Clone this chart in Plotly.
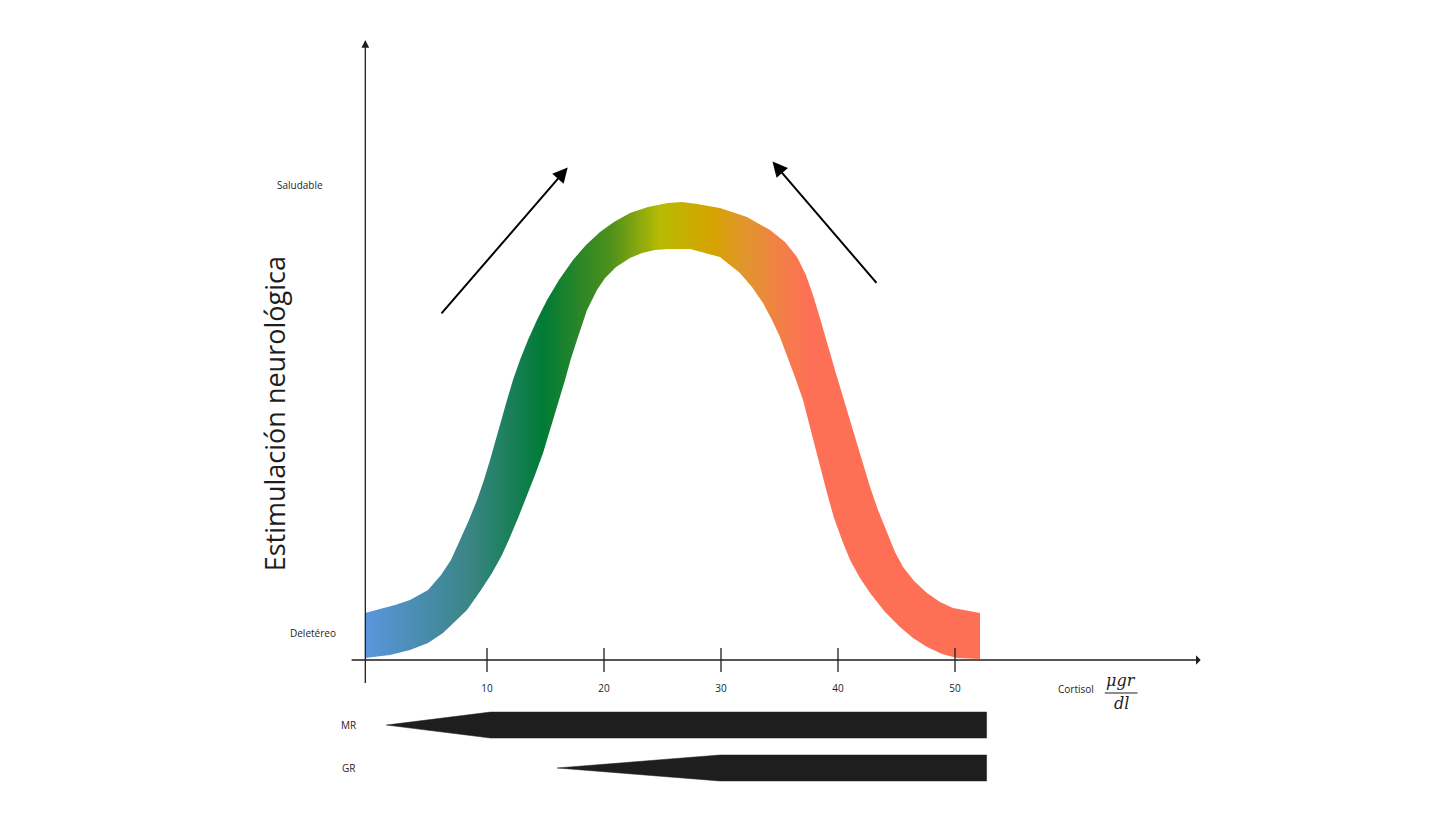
import plotly.graph_objects as go

# ---- data (x: cortisol µg/dl, y: neurological stimulation, arbitrary units) ----
outer_x = [-0.43, 2.14, 3.42, 4.96, 6.07, 6.92, 7.69, 8.46, 9.15, 9.74, 10.26, 10.73, 11.20, 11.71,
           12.22, 12.82, 13.50, 14.27, 15.13, 16.15, 17.35, 18.46, 19.66, 20.85, 22.22, 23.76, 25.47,
           26.67, 27.95, 29.91, 32.22, 34.19, 35.47, 36.50, 37.26, 37.86, 38.46, 39.06, 39.74, 40.43,
           41.03, 41.62, 42.22, 42.74, 43.42, 44.19, 44.87, 45.56, 46.50, 47.61, 48.72, 49.83, 51.03, 52.14]
outer_y = [4.02, 4.70, 5.13, 5.98, 7.26, 8.55, 10.26, 11.97, 13.68, 15.38, 17.09, 18.80, 20.51, 22.22,
           23.93, 25.64, 27.35, 29.06, 30.77, 32.48, 34.19, 35.47, 36.58, 37.44, 38.21, 38.72, 39.06,
           39.15, 38.97, 38.63, 37.86, 36.75, 35.73, 34.44, 32.91, 31.20, 29.23, 27.09, 24.79, 22.48,
           20.51, 18.55, 16.58, 14.79, 12.82, 10.85, 9.23, 7.95, 6.75, 5.73, 4.96, 4.44, 4.19, 4.02]
inner_x = [-0.43, 1.71, 3.42, 4.96, 6.24, 7.44, 8.29, 9.49, 10.43, 11.28, 11.97, 12.69, 13.38, 14.10,
           14.79, 15.21, 15.64, 16.15, 16.67, 17.14, 17.69, 18.55, 19.40, 20.09, 21.03, 22.22, 23.25,
           24.36, 25.47, 27.35, 29.91, 31.62, 32.65, 33.59, 34.36, 35.04, 35.64, 36.32, 37.01, 37.78,
           38.46, 39.06, 39.66, 40.34, 41.03, 41.88, 42.74, 44.02, 45.30, 46.41, 47.61, 48.89, 50.17, 52.14]
inner_y = [0.17, 0.43, 0.85, 1.45, 2.31, 3.42, 4.27, 5.98, 7.44, 8.97, 10.51, 12.22, 13.93, 15.81,
           17.69, 19.06, 20.51, 22.22, 23.93, 25.64, 27.35, 29.91, 31.62, 32.65, 33.59, 34.36, 34.79,
           35.04, 35.13, 35.13, 34.44, 33.08, 31.88, 30.51, 29.06, 27.61, 26.07, 24.19, 22.22, 19.40,
           16.67, 14.27, 12.14, 10.26, 8.55, 7.01, 5.73, 4.10, 2.82, 1.88, 1.11, 0.51, 0.17, 0.09]

tick_values = [10, 20, 30, 40, 50]
tick_labels = ["10", "20", "30", "40", "50"]

# receptor ranges: [tip start, full width start, end]
receptors = ["MR", "GR"]
receptor_start = [1.4, 16.0]
receptor_full = [10.3, 29.9]
receptor_end = [52.7, 52.7]
receptor_row = [-5.56, -9.23]

grad_stops = [0.0, 0.17, 0.29, 0.40, 0.48, 0.565, 0.62, 0.68, 0.72, 1.0]
grad_colors = ["#5b96de", "#3a8585", "#017b35", "#4f901c", "#b7bb02", "#d6a300",
               "#e2942e", "#f37e48", "#fe7055", "#fe7055"]

FONT = "Open Sans"
INK = "#1e1e1e"

fig = go.Figure()

# gradient band
bx = outer_x + inner_x[::-1] + [outer_x[0]]
by = outer_y + inner_y[::-1] + [outer_y[0]]
fig.add_trace(go.Scatter(
    x=bx, y=by, mode="lines", fill="toself",
    line=dict(width=0, color="rgba(0,0,0,0)"),
    fillgradient=dict(type="horizontal",
                      colorscale=[[s, c] for s, c in zip(grad_stops, grad_colors)]),
    hoverinfo="skip", showlegend=False))

# tick marks crossing the x axis
tx, ty = [], []
for v in tick_values:
    tx += [v, v, None]
    ty += [-1.03, 1.03, None]
fig.add_trace(go.Scatter(x=tx, y=ty, mode="lines", line=dict(color=INK, width=1.3),
                         hoverinfo="skip", showlegend=False))
fig.add_trace(go.Scatter(x=tick_values, y=[-2.5] * len(tick_values), mode="text",
                         text=tick_labels, textfont=dict(family=FONT, size=10, color=INK),
                         hoverinfo="skip", showlegend=False))

# receptor wedges
for name, s, f, e, r in zip(receptors, receptor_start, receptor_full, receptor_end, receptor_row):
    h = 1.11
    fig.add_trace(go.Scatter(
        x=[s, f, e, e, f, s], y=[r, r + h, r + h, r - h, r - h, r],
        mode="lines", fill="toself", fillcolor=INK, line=dict(color=INK, width=0.5),
        hoverinfo="skip", showlegend=False))
    fig.add_annotation(x=-1.8, y=r, text=name, showarrow=False, xanchor="center",
                       font=dict(family=FONT, size=10, color=INK))

# axes with arrows
fig.add_annotation(x=71.0, y=0, ax=-1.7, ay=0, xref="x", yref="y", axref="x", ayref="y",
                   showarrow=True, arrowhead=1, arrowsize=1.2, arrowwidth=1.3, arrowcolor=INK, text="")
fig.add_annotation(x=-0.4, y=53.0, ax=-0.4, ay=-2.1, xref="x", yref="y", axref="x", ayref="y",
                   showarrow=True, arrowhead=2, arrowsize=1.2, arrowwidth=1.3, arrowcolor=INK, text="")

# direction arrows
fig.add_annotation(x=16.9, y=42.1, ax=6.0, ay=29.5, xref="x", yref="y", axref="x", ayref="y",
                   showarrow=True, arrowhead=2, arrowsize=1.5, arrowwidth=2, arrowcolor="#000", text="")
fig.add_annotation(x=34.4, y=42.6, ax=43.4, ay=32.1, xref="x", yref="y", axref="x", ayref="y",
                   showarrow=True, arrowhead=2, arrowsize=1.5, arrowwidth=2, arrowcolor="#000", text="")

# y labels
fig.add_annotation(x=-6.0, y=40.6, text="Saludable", showarrow=False,
                   font=dict(family=FONT, size=10, color=INK))
fig.add_annotation(x=-4.9, y=2.3, text="Deletéreo", showarrow=False,
                   font=dict(family=FONT, size=10, color=INK))
fig.add_annotation(x=-8.2, y=21.0, text="Estimulación neurológica", showarrow=False, textangle=-90,
                   font=dict(family=FONT, size=27, color=INK))

# x label with unit fraction
fig.add_annotation(x=60.3, y=-2.5, text="Cortisol", showarrow=False,
                   font=dict(family=FONT, size=10, color=INK))
fig.add_annotation(x=64.2, y=-1.75, text="<i>μgr</i>", showarrow=False,
                   font=dict(family="DejaVu Serif", size=16, color=INK))
fig.add_annotation(x=64.2, y=-3.75, text="<i>dl</i>", showarrow=False,
                   font=dict(family="DejaVu Serif", size=16, color=INK))
fig.add_trace(go.Scatter(x=[62.8, 65.6], y=[-2.82, -2.82], mode="lines",
                         line=dict(color=INK, width=1), hoverinfo="skip", showlegend=False))

fig.update_layout(
    width=1456, height=819, margin=dict(l=0, r=0, t=0, b=0),
    paper_bgcolor="white", plot_bgcolor="white",
    xaxis=dict(range=[-31.624, 92.821], visible=False, fixedrange=True),
    yaxis=dict(range=[-13.590, 56.410], visible=False, fixedrange=True),
    showlegend=False,
)

fig.write_html("out.html", config={"displayModeBar": False},
               post_script="document.body.style.margin='0';")
